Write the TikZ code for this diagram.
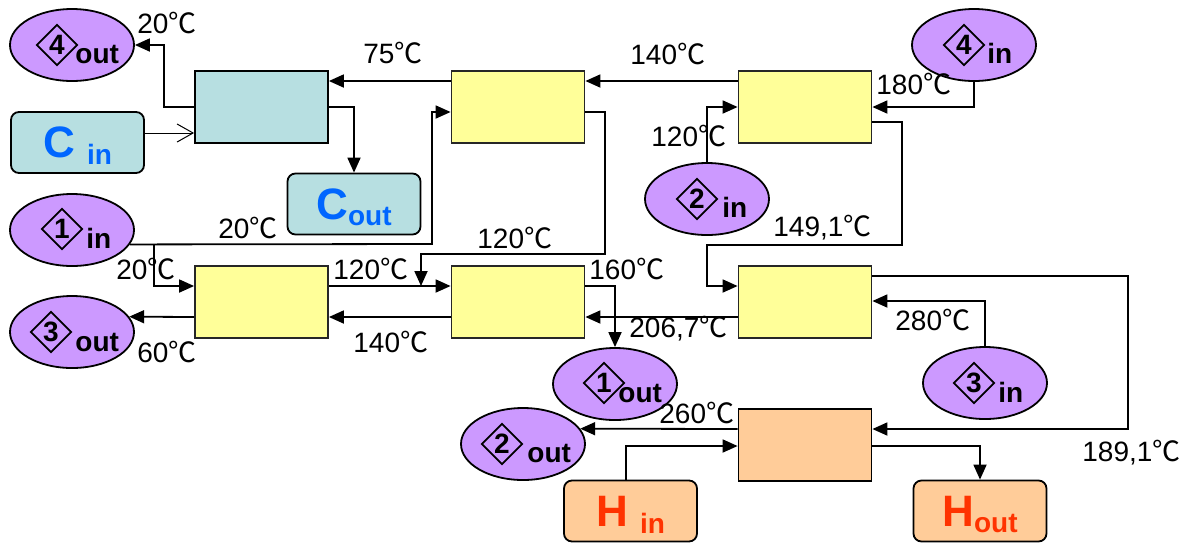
\documentclass[tikz,border=0pt]{standalone}
\usepackage{fontspec}
\setmainfont{Liberation Sans}
\newfontfamily\cjk{Noto Sans CJK SC}
\usetikzlibrary{shapes.geometric,arrows.meta}

\definecolor{coolfill}{RGB}{183,223,225}
\definecolor{exyellow}{RGB}{255,255,153}
\definecolor{heatfill}{RGB}{255,204,153}
\definecolor{streamlilac}{RGB}{204,153,255}
\definecolor{coldtext}{RGB}{0,102,255}
\definecolor{hottext}{RGB}{255,51,0}

\newcommand\degc{{\cjk ℃}}
\newcommand\subsz{\fontsize{14}{14}\selectfont}

\begin{document}
\begin{tikzpicture}[x=0.5pt,y=-0.5pt,
  exbox/.style={draw=black!85, line width=0.9pt, fill=exyellow,
    minimum width=66.5pt, minimum height=36pt, inner sep=0pt},
  coolbox/.style={exbox, draw=black, fill=coolfill},
  heatbox/.style={exbox, draw=black, fill=heatfill},
  util/.style={draw=black, line width=0.9pt, rounded corners=4pt,
    minimum width=66.5pt, minimum height=30.5pt, inner sep=0pt, text depth=0pt,
    font=\fontsize{22}{22}\selectfont\bfseries},
  cutil/.style={util, fill=coolfill, text=coldtext},
  hutil/.style={util, fill=heatfill, text=hottext},
  stream/.style={ellipse, draw=black, line width=0.9pt, fill=streamlilac,
    minimum width=62pt, minimum height=36pt, inner sep=0pt},
  tag/.style={diamond, draw=black, line width=0.9pt, minimum width=20.5pt,
    minimum height=20.5pt, inner sep=0pt, font=\fontsize{14}{14}\selectfont\bfseries},
  tagtxt/.style={anchor=base west, inner sep=0pt, font=\fontsize{14}{14}\selectfont\bfseries},
  temp/.style={anchor=base west, inner sep=0pt, font=\fontsize{14}{14}\selectfont},
  arr/.style={line width=0.9pt, -{Triangle[length=7.5pt,width=6.5pt]}},
  openarr/.style={line width=0.5pt, -{Straight Barb[length=8pt,width=9pt]}}]
  \useasboundingbox (0,0) rectangle (1188,542);

  % Heat exchangers
  \node[coolbox] (hxc) at (261.5,107) {};
  \node[exbox] (ex1) at (518,107) {};
  \node[exbox] (ex2) at (805,107) {};
  \node[exbox] (ex3) at (261.5,302) {};
  \node[exbox] (ex4) at (518,302) {};
  \node[exbox] (ex5) at (805,302) {};
  \node[heatbox] (hot) at (805,445) {};

  % Utilities
  \node[cutil] (cin) at (77.5,142.5) {C \raisebox{-3.5pt}{\subsz in}};
  \node[cutil] (cout) at (354,204) {C\raisebox{-3pt}{\subsz out}};
  \node[hutil] (hin) at (630.5,511) {H \raisebox{-3.5pt}{\subsz in}};
  \node[hutil] (hout) at (980,511) {H\raisebox{-3pt}{\subsz out}};

  % Process streams
  \node[stream] (s4out) at (72,45) {};
  \node[tag] (s4out-n) at (57,45) {4};
  \node[tagtxt] (s4out-l) at (75,63) {out};

  \node[stream] (s1in) at (72,230) {};
  \node[tag] (s1in-n) at (62,229) {1};
  \node[tagtxt] (s1in-l) at (86,248) {in};

  \node[stream] (s3out) at (72,332) {};
  \node[tag] (s3out-n) at (51,332) {3};
  \node[tagtxt] (s3out-l) at (75,351) {out};

  \node[stream] (s4in) at (974,45) {};
  \node[tag] (s4in-n) at (964,45) {4};
  \node[tagtxt] (s4in-l) at (987,63) {in};

  \node[stream] (s2in) at (707,199) {};
  \node[tag] (s2in-n) at (697,199) {2};
  \node[tagtxt] (s2in-l) at (722,217) {in};

  \node[stream] (s1out) at (615,384) {};
  \node[tag] (s1out-n) at (604,383) {1};
  \node[tagtxt] (s1out-l) at (618,402) {out};

  \node[stream] (s3in) at (985,383) {};
  \node[tag] (s3in-n) at (974,383) {3};
  \node[tagtxt] (s3in-l) at (998,402) {in};

  \node[stream] (s2out) at (523,444) {};
  \node[tag] (s2out-n) at (502,444) {2};
  \node[tagtxt] (s2out-l) at (527,462) {out};

  % Junctions
  \coordinate (split1) at (154,244);
  \coordinate (merge1) at (421,286);

  % Connections
  \draw[arr] (hxc.west) -| (164,45) -- (s4out.east);
  \draw[openarr] (cin.east |- 0,133) -- (hxc.west |- 0,133);
  \draw[arr] (hxc.east) -| (cout.north);
  \draw[arr] (ex1.west |- 0,81) -- (hxc.east |- 0,81);
  \draw[arr] (ex2.west |- 0,81) -- (ex1.east |- 0,81);
  \draw[arr] (s4in.south) |- (ex2.east |- 0,107);
  \draw[arr] (s2in.north) |- (ex2.west |- 0,107);
  \draw[arr] (s1in.-14) -- (432,244) |- (ex1.west |- 0,112);
  \draw[arr] (split1) |- (ex3.west |- 0,286);
  \draw[arr] (ex1.east |- 0,112) -| (605,254) -| (merge1);
  \draw[arr] (ex3.east |- 0,286) -- (ex4.west |- 0,286);
  \draw[arr] (ex2.east |- 0,122) -| (902,245) -| (707,265) |- (ex5.west |- 0,286);
  \draw[arr] (ex5.west |- 0,317) -- (ex4.east |- 0,317);
  \draw[arr] (ex4.west |- 0,317) -- (ex3.east |- 0,317);
  \draw[arr] (ex3.west |- 0,317) -- (s3out.15);
  \draw[arr] (ex4.east |- 0,286) -| (s1out.north);
  \draw[arr] (s3in.north) |- (ex5.east |- 0,301);
  \draw[arr] (ex5.east |- 0,276) -| (1128,429) -- (hot.east |- 0,429);
  \draw[arr] (hot.west |- 0,429) -- (s2out.15);
  \draw[arr] (hin.north -| 626,0) |- (hot.west |- 0,446);
  \draw[arr] (hot.east |- 0,446) -| (hout.north);

  % Temperatures
  \node[temp] (t4out) at (137,33) {20\degc};
  \node[temp] (t75) at (363,63) {75\degc};
  \node[temp] (t140a) at (630,64) {140\degc};
  \node[temp] (t4in) at (876,94) {180\degc};
  \node[temp] (t2in) at (651,146) {120\degc};
  \node[temp] (t149) at (773,236) {149,1\degc};
  \node[temp] (t1ina) at (218,238) {20\degc};
  \node[temp] (t120a) at (477,248) {120\degc};
  \node[temp] (t1inb) at (116,279) {20\degc};
  \node[temp] (t120b) at (333,279) {120\degc};
  \node[temp] (t140b) at (353,352) {140\degc};
  \node[temp] (t3out) at (137,362) {60\degc};
  \node[temp] (t160) at (589,279) {160\degc};
  \node[temp] (t206) at (629,337) {206,7\degc};
  \node[temp] (t3in) at (895,330) {280\degc};
  \node[temp] (t189) at (1082,461) {189,1\degc};
  \node[temp] (t2out) at (659,423) {260\degc};
\end{tikzpicture}
\end{document}
